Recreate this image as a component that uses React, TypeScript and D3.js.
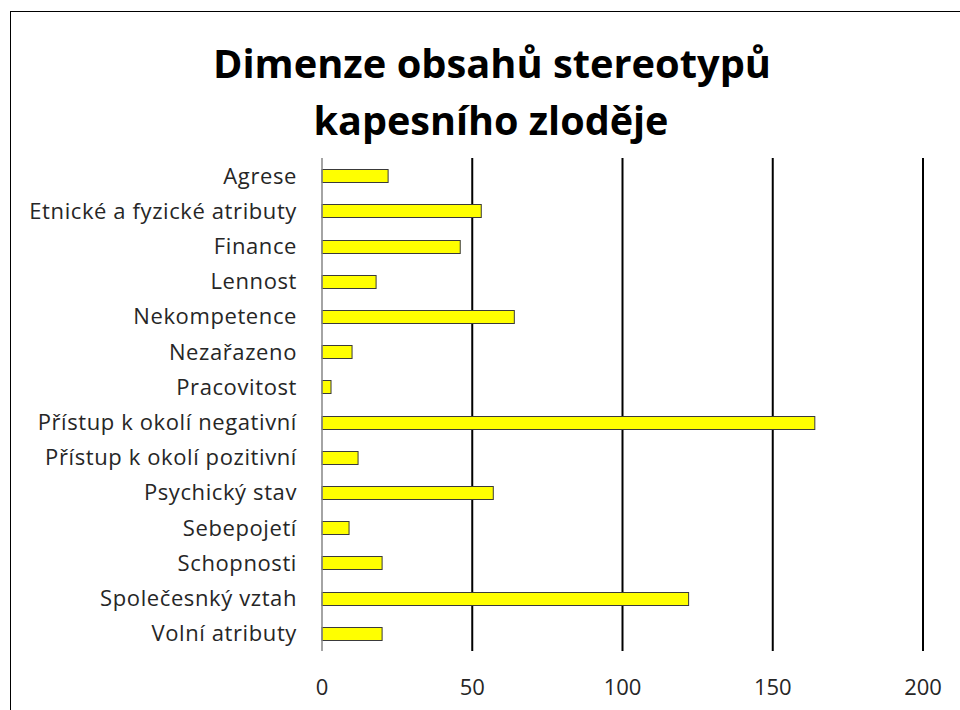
import React from "react"
import * as d3 from "d3"

// Data
const categories = [
  "Agrese",
  "Etnické a fyzické atributy",
  "Finance",
  "Lennost",
  "Nekompetence",
  "Nezařazeno",
  "Pracovitost",
  "Přístup k okolí negativní",
  "Přístup k okolí pozitivní",
  "Psychický stav",
  "Sebepojetí",
  "Schopnosti",
  "Společesnký vztah",
  "Volní atributy",
]
const values = [22, 53, 46, 18, 64, 10, 3, 164, 12, 57, 9, 20, 122, 20]
const xTicks = [0, 50, 100, 150, 200]
const titleLines = ["Dimenze obsahů stereotypů", "kapesního zloděje"]

const FONT = "'Open Sans', Lato, sans-serif"

export default function App() {
  // Dimensions
  const W = 960
  const H = 710
  const plot = { left: 322, right: 923, top: 158, bottom: 651 }

  // Scales
  const x = d3.scaleLinear().domain([0, 200]).range([plot.left, plot.right])
  const y = d3
    .scaleBand<string>()
    .domain(categories)
    .range([plot.top, plot.bottom])
    .paddingInner(0.63)
    .paddingOuter(0.315)

  return (
    <svg
      width={W}
      height={H}
      style={{ position: "absolute", left: 0, top: 0, background: "#fff" }}
      fontFamily={FONT}
    >
      {/* chart border, runs off the page on the right and bottom */}
      <rect x={10.5} y={11.5} width={1000} height={800} fill="#fff" stroke="#000" strokeWidth={1} />

      {/* Title */}
      <g fontSize={40} fontWeight={700} fill="#000" textAnchor="middle">
        <text x={492} y={78} textLength={558} lengthAdjust="spacingAndGlyphs">
          {titleLines[0]}
        </text>
        <text x={491} y={135} textLength={355} lengthAdjust="spacingAndGlyphs">
          {titleLines[1]}
        </text>
      </g>

      {/* Gridlines */}
      {xTicks.slice(1).map(t => (
        <line key={t} x1={x(t)} x2={x(t)} y1={plot.top} y2={plot.bottom} stroke="#000" strokeWidth={2} />
      ))}

      {/* Bars */}
      {categories.map((c, i) => (
        <rect
          key={c}
          x={x(0)}
          y={Math.round(y(c)!) + 0.5}
          width={x(values[i]) - x(0)}
          height={Math.round(y.bandwidth())}
          fill="#ffff00"
          stroke="#3a3a3a"
          strokeWidth={1}
        />
      ))}

      {/* Category axis */}
      <line x1={x(0)} x2={x(0)} y1={plot.top} y2={plot.bottom} stroke="#868686" strokeWidth={1.5} />
      {categories.map(c => (
        <text key={c} x={297} y={y(c)! + y.bandwidth() / 2} dy="0.36em" textAnchor="end"
          fontSize={22} letterSpacing={0.6} fill="#262626">
          {c}
        </text>
      ))}

      {/* Value axis labels */}
      {xTicks.map(t => (
        <text key={t} x={x(t)} y={695} textAnchor="middle" fontSize={22} fill="#262626">
          {t}
        </text>
      ))}
    </svg>
  )
}
